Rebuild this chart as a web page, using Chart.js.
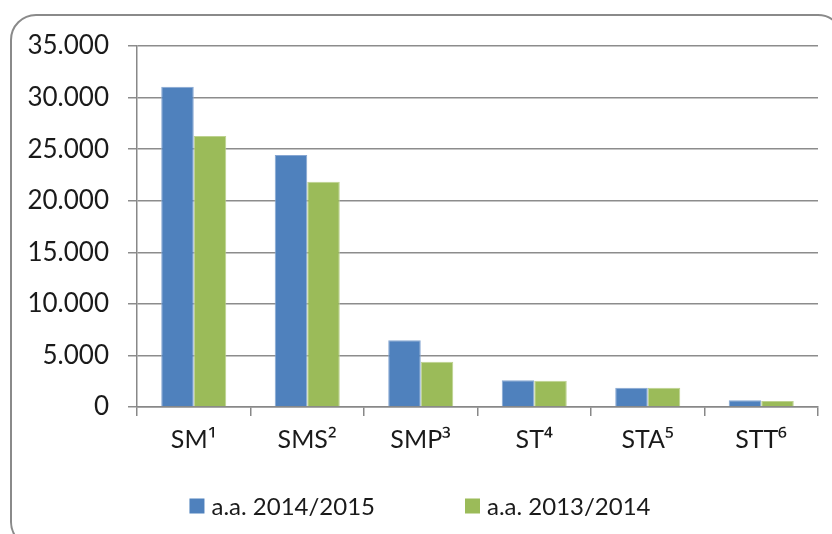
<!DOCTYPE html>
<html>
<head>
<meta charset="utf-8">
<script src="https://cdn.jsdelivr.net/npm/chart.js@4.4.0/dist/chart.umd.min.js"></script>
<style>
  @font-face { font-family: 'SupFont'; src: local('Noto Sans'), local('NotoSans-Regular'); unicode-range: U+00B2-00B3, U+00B9, U+2070-2079; }
  html, body { margin: 0; padding: 0; background: #ffffff; overflow: hidden; }
  #wrap { position: relative; width: 832px; height: 534px; }
  #frame { position: absolute; left: 10px; top: 14px; width: 834px; height: 534px;
           border: 2px solid #8a8a8a; border-radius: 26px; box-sizing: border-box; }
  canvas { position: absolute; left: 0; top: 0; }
</style>
</head>
<body>
<div id="wrap">
  <div id="frame"></div>
  <canvas id="c" width="832" height="534"></canvas>
</div>
<script>
const categories = ["SM\u00B9", "SMS\u00B2", "SMP\u00B3", "ST\u2074", "STA\u2075", "STT\u2076"];
const seriesNames = ["a.a. 2014/2015", "a.a. 2013/2014"];
const values2014_2015 = [31050, 24430, 6480, 2600, 1860, 650];
const values2013_2014 = [26270, 21850, 4380, 2550, 1860, 590];
const yTickLabels = ["0", "5.000", "10.000", "15.000", "20.000", "25.000", "30.000", "35.000"];
const yMax = 35000;
const yStep = 5000;

const FONT = "SupFont, Lato, 'Open Sans', 'DejaVu Sans', sans-serif";

const bottomLegend = {
  id: 'bottomLegend',
  afterDraw(chart) {
    const ctx = chart.ctx;
    const box = 15, gapText = 7, gapItem = 90;
    ctx.save();
    ctx.font = "24px " + FONT;
    ctx.textBaseline = 'middle';
    ctx.textAlign = 'left';
    const items = chart.data.datasets.map(d => ({ label: d.label, color: d.backgroundColor, w: ctx.measureText(d.label).width }));
    let total = 0;
    items.forEach((it, i) => { total += box + gapText + it.w + (i < items.length - 1 ? gapItem : 0); });
    let x = chart.width / 2 + 4 - total / 2;
    const cy = 506;
    items.forEach(it => {
      ctx.fillStyle = it.color;
      ctx.fillRect(x, cy - box / 2, box, box);
      x += box + gapText;
      ctx.fillStyle = '#1a1a1a';
      ctx.fillText(it.label, x, cy + 1);
      x += it.w + gapItem;
    });
    ctx.restore();
  }
};

function draw() {
  new Chart(document.getElementById('c'), {
    type: 'bar',
    data: {
      labels: categories,
      datasets: [
        { label: seriesNames[0], data: values2014_2015, backgroundColor: '#4F81BD', borderColor: '#86A6D2', borderWidth: 1 },
        { label: seriesNames[1], data: values2013_2014, backgroundColor: '#9BBB59', borderColor: '#BDD28F', borderWidth: 1 }
      ]
    },
    options: {
      responsive: false,
      animation: false,
      devicePixelRatio: 1,
      layout: { padding: { left: 0, right: 14, top: 46, bottom: 67 } },
      datasets: { bar: { barPercentage: 1.0, categoryPercentage: 0.573 } },
      plugins: {
        tooltip: { enabled: false },
        legend: { display: false }
      },
      scales: {
        x: {
          grid: { offset: true, drawOnChartArea: false, drawTicks: true, tickLength: 9, color: '#888888', lineWidth: 1.5 },
          border: { color: '#888888', width: 1.5 },
          ticks: { font: { family: FONT, size: 25 }, color: '#1a1a1a', padding: 9, maxRotation: 0 },
          afterFit: (s) => { s.height = 60; }
        },
        y: {
          min: 0, max: yMax,
          grid: { color: '#8c8c8c', lineWidth: 1.5, tickLength: 9 },
          border: { color: '#888888', width: 1.5 },
          ticks: {
            stepSize: yStep,
            font: { family: FONT, size: 26 },
            color: '#1a1a1a',
            padding: 19,
            callback: (v) => yTickLabels[Math.round(v / yStep)]
          },
          afterFit: (s) => { s.width = 137; }
        }
      }
    },
    plugins: [bottomLegend]
  });
}

Promise.all([
  document.fonts.load("24px SupFont", "\u00B9\u00B2\u00B3\u2074\u2075\u2076"),
  document.fonts.load("24px Lato", "a")
]).then(draw, draw);
</script>
</body>
</html>
